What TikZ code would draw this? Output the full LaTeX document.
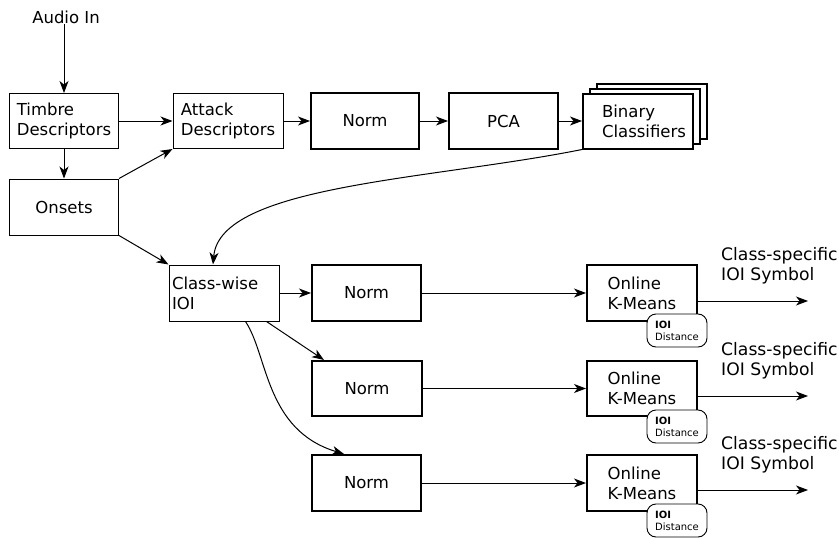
\documentclass[tikz,border=0pt]{standalone}
\usepackage{fontspec}
\setmainfont{DejaVu Sans}
\usetikzlibrary{arrows.meta,shadows}

\begin{document}
\begin{tikzpicture}[x=1pt,y=-1pt,
  every node/.style={font=\fontsize{16.5}{20}\selectfont},
  thinbox/.style={draw, line width=1pt, fill=white, align=left, inner sep=0pt},
  thickbox/.style={draw, line width=2pt, fill=white, align=left, inner sep=0pt},
  stackbox/.style={thickbox,
    general shadow={shadow scale=1, shadow xshift=14pt, shadow yshift=10pt, fill=white, draw, line width=2pt},
    general shadow={shadow scale=1, shadow xshift=7pt, shadow yshift=5pt, fill=white, draw, line width=2pt}},
  distbox/.style={draw, line width=0.9pt, rounded corners=9pt, fill=white,
    minimum width=60pt, minimum height=33pt, align=left, inner sep=0pt,
    font=\fontsize{10}{12}\selectfont},
  outlabel/.style={anchor=west, align=left, inner sep=0pt, font=\fontsize{17.2}{20.5}\selectfont},
  conn/.style={line width=1pt, -{Stealth[length=12pt,width=9pt,inset=3.5pt]}},
]
\useasboundingbox (0,0) rectangle (839,538);

% input and feature extraction
\node[inner sep=0pt, anchor=south] (audio) at (66,24) {Audio In};
\node[thinbox, minimum width=109pt, minimum height=55pt] (tim) at (64,121) {Timbre\\Descriptors};
\node[thinbox, minimum width=110pt, minimum height=55pt] (att) at (228,121) {Attack\\Descriptors};
\node[thinbox, minimum width=109pt, minimum height=56pt] (ons) at (64,207) {Onsets};

% classification chain
\node[thickbox, minimum width=108pt, minimum height=56pt] (n0) at (365,121) {Norm};
\node[thickbox, minimum width=109pt, minimum height=56pt] (pca) at (503.5,121) {PCA};
\node[stackbox, minimum width=110pt, minimum height=55pt] (bc) at (638,121)
  {\hspace*{12pt}Binary\\\hspace*{12pt}Classifiers};

% inter-onset interval branch
\node[thinbox, minimum height=56pt, inner xsep=3pt, text width=104pt] (cw) at (224,293) {Class-wise\\IOI};

\node[thickbox, minimum width=109pt, minimum height=56pt] (n1) at (366.5,293) {Norm};
\node[thickbox, minimum width=110pt, minimum height=55pt] (n2) at (367,388.5) {Norm};
\node[thickbox, minimum width=109pt, minimum height=56pt] (n3) at (366.5,483) {Norm};

\node[thickbox, minimum width=110pt, minimum height=56pt] (k1) at (642,293) {Online\\K-Means};
\node[thickbox, minimum width=110pt, minimum height=55pt] (k2) at (642,388.5) {Online\\K-Means};
\node[thickbox, minimum width=110pt, minimum height=56pt] (k3) at (642,483) {Online\\K-Means};

\node[distbox] (d1) at (677,330.5) {\textbf{IOI}\\Distance};
\node[distbox] (d2) at (677,426.5) {\textbf{IOI}\\Distance};
\node[distbox] (d3) at (677,520.5) {\textbf{IOI}\\Distance};

\node[outlabel] (l1) at (721,266) {Class-specific\\IOI Symbol};
\node[outlabel] (l2) at (721,361) {Class-specific\\IOI Symbol};
\node[outlabel] (l3) at (721,455) {Class-specific\\IOI Symbol};

\coordinate (o1) at (808,301);
\coordinate (o2) at (808,396);
\coordinate (o3) at (808,490);

% connectors
\draw[conn] (audio.south -| tim.north) -- (tim.north);
\draw[conn] (tim.east) -- (att.west);
\draw[conn] (tim.south) -- (ons.north);
\draw[conn] (ons.north east) -- (att.south west);
\draw[conn] (ons.south east) -- (cw.north west);
\draw[conn] (att.east) -- (n0.west);
\draw[conn] (n0.east) -- (pca.west);
\draw[conn] (pca.east) -- (bc.west);
\draw[conn] (bc.south west) .. controls (430,180) and (220,185) .. ([xshift=-11pt]cw.north);

\draw[conn] (cw.east) -- (n1.west);
\draw[conn] ([xshift=-13pt]cw.south east) -- ([xshift=13pt]n2.north west);
\draw[conn] ([xshift=-34pt]cw.south east) .. controls (268,355) and (265,430) .. ([xshift=33pt]n3.north west);

\draw[conn] (n1.east) -- (k1.west);
\draw[conn] (n2.east) -- (k2.west);
\draw[conn] (n3.east) -- (k3.west);

\draw[conn] ([yshift=-8pt]k1.east) -- (o1);
\draw[conn] ([yshift=-7.5pt]k2.east) -- (o2);
\draw[conn] ([yshift=-7pt]k3.east) -- (o3);
\end{tikzpicture}
\end{document}
